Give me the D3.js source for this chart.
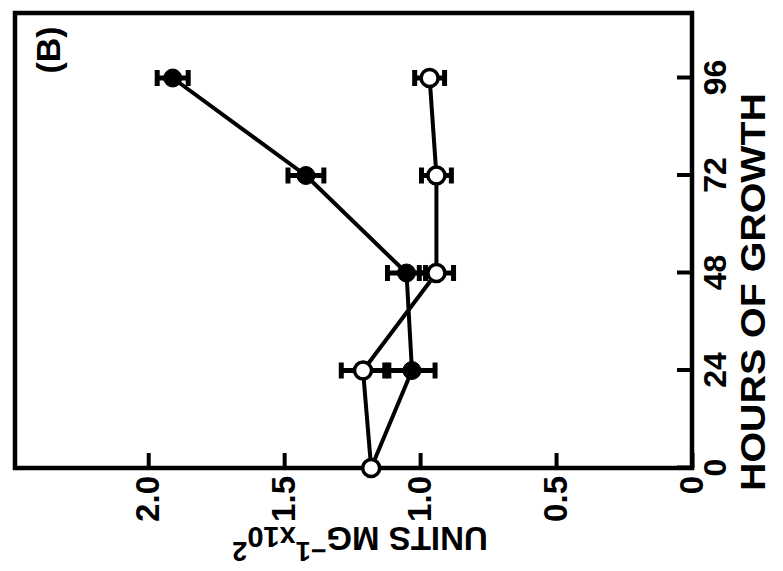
<!DOCTYPE html>
<html>
<head>
<meta charset="utf-8">
<script src="https://cdn.jsdelivr.net/npm/d3@7"></script>
<style>
  html, body { margin: 0; padding: 0; background: #fff; }
  svg { display: block; }
  text { font-family: "Liberation Sans", Arial, Helvetica, sans-serif; font-weight: bold; fill: #000; }
</style>
</head>
<body>
<svg id="chart" width="783" height="571"></svg>
<script>
// ---- data ----
const hours = [0, 24, 48, 72, 96];
const filledVals = [1.18, 1.03, 1.05, 1.42, 1.91];
const filledErr  = [0, 0.085, 0.07, 0.066, 0.057];
const openVals   = [1.18, 1.21, 0.94, 0.94, 0.965];
const openErr    = [0, 0.08, 0.063, 0.055, 0.055];
const hourTicks  = [0, 24, 48, 72, 96];
const unitTicks  = [0, 0.5, 1.0, 1.5, 2.0];
const unitTickLabels = ["0", "0.5", "1.0", "1.5", "2.0"];
const panelLabel = "(B)";
const xTitle = "HOURS OF GROWTH";

// ---- layout (chart drawn upright, then the whole figure rotated -90°) ----
const svg = d3.select("#chart");
const W = 783, H = 571;
const margin = { left: 103, top: 15 };
const w = 455, h = 677;

const root = svg.append("g").attr("transform", `translate(0,${H}) rotate(-90)`);
const g = root.append("g").attr("transform", `translate(${margin.left},${margin.top})`);

const x = d3.scaleLinear().domain([0, 112]).range([0, w]);
const y = d3.scaleLinear().domain([0, 2.49]).range([h, 0]);

// frame
g.append("rect").attr("x", 0).attr("y", 0).attr("width", w).attr("height", h)
  .attr("fill", "none").attr("stroke", "#000").attr("stroke-width", 4.5);

// x axis (hours)
const xAxis = g.append("g").attr("transform", `translate(0,${h})`)
  .call(d3.axisBottom(x).tickValues(hourTicks).tickSizeInner(-15).tickSizeOuter(0).tickPadding(11));
xAxis.attr("font-size", 32).attr("font-family", "Liberation Sans, Arial, sans-serif").attr("font-weight", "bold");
xAxis.select(".domain").remove();
xAxis.selectAll(".tick line").attr("stroke", "#000").attr("stroke-width", 4);
xAxis.selectAll(".tick text").attr("fill", "#000");

// y axis (units)
const yAxis = g.append("g")
  .call(d3.axisLeft(y).tickValues(unitTicks).tickFormat((d, i) => unitTickLabels[i])
    .tickSizeInner(-15).tickSizeOuter(0).tickPadding(8));
yAxis.attr("font-size", 33).attr("font-family", "Liberation Sans, Arial, sans-serif").attr("font-weight", "bold");
yAxis.select(".domain").remove();
yAxis.selectAll(".tick line").attr("stroke", "#000").attr("stroke-width", 4);
yAxis.selectAll(".tick text").attr("fill", "#000");

// axis titles
g.append("text")
  .attr("x", 176).attr("y", 750)
  .attr("text-anchor", "middle")
  .attr("font-size", 35)
  .attr("textLength", 398).attr("lengthAdjust", "spacingAndGlyphs")
  .text(xTitle);

const yt = g.append("text")
  .attr("transform", `translate(-59,345) rotate(-90)`)
  .attr("text-anchor", "middle")
  .attr("font-size", 33);
yt.append("tspan").text("UNITS MG");
yt.append("tspan").attr("baseline-shift", "super").attr("font-size", 27).text("\u22121");
yt.append("tspan").attr("font-size", 29).text("x10");
yt.append("tspan").attr("baseline-shift", "super").attr("font-size", 27).text("2");

// panel label
g.append("text").attr("x", 418).attr("y", 45).attr("text-anchor", "middle")
  .attr("font-size", 34).text(panelLabel);

// series
function drawSeries(vals, errs, filled) {
  const pts = hours.map((hh, i) => ({ h: hh, v: vals[i], e: errs[i] }));
  const line = d3.line().x(d => x(d.h)).y(d => y(d.v));
  g.append("path").datum(pts).attr("d", line)
    .attr("fill", "none").attr("stroke", "#000").attr("stroke-width", 4).attr("stroke-linejoin", "round");
  const eb = g.append("g").selectAll("g").data(pts.filter(d => d.e > 0)).join("g");
  eb.append("line")
    .attr("x1", d => x(d.h)).attr("x2", d => x(d.h))
    .attr("y1", d => y(d.v - d.e)).attr("y2", d => y(d.v + d.e))
    .attr("stroke", "#000").attr("stroke-width", 5);
  [-1, 1].forEach(s => {
    eb.append("line")
      .attr("x1", d => x(d.h) - 8).attr("x2", d => x(d.h) + 8)
      .attr("y1", d => y(d.v + s * d.e)).attr("y2", d => y(d.v + s * d.e))
      .attr("stroke", "#000").attr("stroke-width", 5);
  });
  g.append("g").selectAll("circle").data(pts).join("circle")
    .attr("cx", d => x(d.h)).attr("cy", d => y(d.v)).attr("r", filled ? 9 : 8.5)
    .attr("fill", filled ? "#000" : "#fff")
    .attr("stroke", "#000").attr("stroke-width", filled ? 1 : 3.5);
}
drawSeries(filledVals, filledErr, true);
drawSeries(openVals, openErr, false);
</script>
</body>
</html>
